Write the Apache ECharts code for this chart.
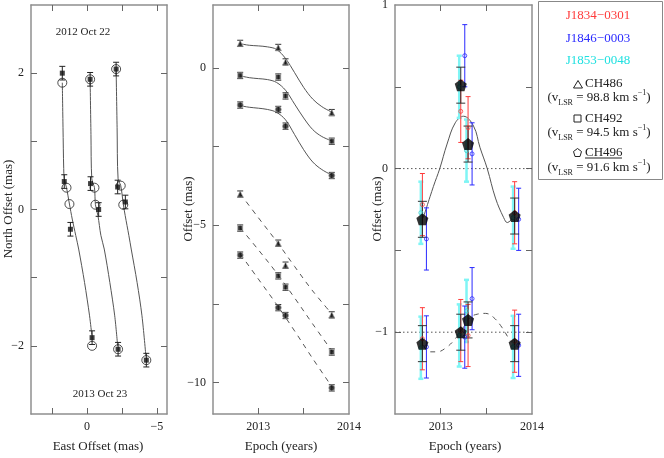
<!DOCTYPE html>
<html><head><meta charset="utf-8">
<script src="https://cdn.jsdelivr.net/npm/echarts@6/dist/echarts.min.js"></script>
<style>html,body{margin:0;padding:0;background:#fff}#c{width:664px;height:458px}</style>
</head><body><div id="c"></div><script>
// ---------- Panel 1: sky positions (East offset, North offset) ----------
const track1Curve = [[1.76,1.86],[1.71,1.2],[1.66,0.6],[1.62,0.45],[1.46,0.32],[1.25,0.08],[1.05,-0.14],[0.80,-0.38],[0.59,-0.58],[0.17,-1.07],[-0.19,-1.56],[-0.35,-1.84]];
const track2Curve = [[-0.23,1.91],[-0.29,1.1],[-0.35,0.45],[-0.54,0.32],[-0.61,0.07],[-0.79,-0.09],[-1.0,-0.38],[-1.24,-0.58],[-1.64,-1.07],[-1.99,-1.56],[-2.20,-2.0]];
const track3Curve = [[-2.09,2.06],[-2.16,1.2],[-2.23,0.45],[-2.42,0.35],[-2.61,0.07],[-2.74,-0.09],[-3.0,-0.38],[-3.17,-0.58],[-3.59,-1.07],[-3.94,-1.56],[-4.22,-2.15]];
const track1Model = [[1.76,1.86],[1.46,0.32],[1.25,0.08],[-0.37,-2.00]];
const track2Model = [[-0.23,1.91],[-0.54,0.32],[-0.61,0.07],[-2.23,-2.05]];
const track3Model = [[-2.09,2.06],[-2.42,0.35],[-2.60,0.07],[-4.25,-2.21]];
const track1Data = [[1.76,2.00],[1.62,0.41],[1.18,-0.29],[-0.37,-1.88]];
const track2Data = [[-0.23,1.91],[-0.26,0.38],[-0.84,0.00],[-2.23,-2.05]];
const track3Data = [[-2.09,2.06],[-2.20,0.33],[-2.75,0.11],[-4.25,-2.21]];
const trackErr = [0.1,0.1,0.1,0.1];

// ---------- Panel 2: offsets vs epoch ----------
const epochs = [2012.80, 2013.22, 2013.30, 2013.81];
const raTri  = [0.78, 0.65, 0.19, -1.42];
const raSq   = [-0.24, -0.29, -0.89, -2.33];
const raCirc = [-1.18, -1.32, -1.85, -3.42];
const decTri  = [-4.01, -5.57, -6.27, -7.85];
const decSq   = [-5.09, -6.61, -6.97, -9.03];
const decCirc = [-5.95, -7.62, -7.87, -10.17];
const offErr = [0.1, 0.1, 0.1, 0.1];
const fitEpochs = [2012.80,2012.90,2013.00,2013.10,2013.20,2013.30,2013.40,2013.50,2013.60,2013.70,2013.82];
const fitTri  = [0.77,0.72,0.70,0.67,0.59,0.30,-0.15,-0.62,-0.99,-1.23,-1.42];
const fitSq   = [-0.25,-0.31,-0.34,-0.37,-0.46,-0.71,-1.15,-1.59,-1.96,-2.18,-2.33];
const fitCirc = [-1.20,-1.25,-1.28,-1.32,-1.41,-1.65,-2.12,-2.60,-2.99,-3.23,-3.42];
const dfitEpochs = [2012.80,2013.00,2013.20,2013.40,2013.60,2013.82];
const dfitTri  = [-4.00,-4.76,-5.51,-6.31,-7.09,-7.85];
const dfitSq   = [-5.08,-5.78,-6.51,-7.31,-8.14,-9.03];
const dfitCirc = [-5.91,-6.71,-7.51,-8.36,-9.24,-10.17];

// ---------- Panel 3: residual offsets ----------
const blackUp  = [-0.31, 0.51, 0.15, -0.29];
const blackLow = [-1.07, -1.00, -0.925, -1.07];
const blackErr = [0.11, 0.11, 0.11, 0.11];
const redUp  = [-0.22, 0.35, 0.25, -0.27];
const redLow = [-1.04, -0.99, -1.02, -1.055];
const blueUp  = [-0.43, 0.69, 0.09, -0.31];
const blueLow = [-1.09, -1.03, -0.795, -1.08];
const cyanUp  = [-0.27, 0.50, 0.11, -0.30];
const cyanLow = [-1.095, -1.02, -0.87, -1.09];
const colErr = [0.19, 0.19, 0.19, 0.19];
const upFitEpochs = [2012.81,2012.92,2012.99,2013.07,2013.16,2013.25,2013.36,2013.43,2013.51,2013.60,2013.69,2013.73,2013.79];
const upFit = [-0.30,-0.11,0.00,0.15,0.28,0.32,0.26,0.13,0.00,-0.18,-0.30,-0.33,-0.30];
const lowFitEpochs = [2012.81,2012.88,2012.96,2013.07,2013.16,2013.25,2013.32,2013.40,2013.49,2013.58,2013.67,2013.76,2013.80];
const lowFit = [-1.08,-1.12,-1.12,-1.09,-1.04,-0.97,-0.91,-0.89,-0.885,-0.91,-0.97,-1.05,-1.07];
const refLevels = [0, -1];

// tick / label values
const p1xTicks = [-5,-2.5,0,2.5], p1xLabels = [-5,0];
const p1yTicks = [-2,-1,0,1,2], p1yLabels = [-2,0,2];
const epTicks = [2013,2013.5], epLabels = [2013,2014];
const p2yTicks = [-10,-7.5,-5,-2.5,0], p2yLabels = [-10,-5,0];
const p3yTicks = [-1,-0.5,0,0.5], p3yLabels = [-1,0,1];

const FONT = 'Liberation Serif';
const TXT = '#222';
const FRAME = '#8f8f8f';
const RED = '#ff3b3b', BLUE = '#2a2aff', CYAN = '#7ff5f5', CYANTXT = '#1fe0e0';
const cyanShift = -0.017, blueShift = 0.044;
const fmt = v => String(v).replace('-', '\u2212');
const zip = (xs, ys, es) => xs.map((x, i) => es ? [x, ys[i], es[i]] : [x, ys[i]]);
const shift = (xs, d) => xs.map(x => +(x + d).toFixed(3));

function mkAxis(gridIndex, position, min, max, ticks, labels, extra) {
  return Object.assign({
    type: 'value', gridIndex, position, min, max,
    axisLine: {show: true, onZero: false, lineStyle: {color: FRAME, width: 1.5}},
    axisTick: {show: true, inside: true, length: 6, customValues: ticks, lineStyle: {color: '#666', width: 1}},
    axisLabel: labels ? {show: true, customValues: labels, formatter: fmt, color: TXT, fontFamily: FONT, fontSize: 12, margin: 7} : {show: false},
    splitLine: {show: false}
  }, extra || {});
}

function errSeries(xi, yi, data, color, capHalf, width, z) {
  return {type: 'custom', xAxisIndex: xi, yAxisIndex: yi, data, z: z || 3, silent: true,
    encode: {x: 0, y: 1},
    renderItem(params, api) {
      const x = api.value(0), y = api.value(1), e = api.value(2);
      const p1 = api.coord([x, y + e]), p2 = api.coord([x, y - e]);
      const st = {stroke: color, lineWidth: width};
      return {type: 'group', children: [
        {type: 'line', shape: {x1: p1[0], y1: p1[1], x2: p2[0], y2: p2[1]}, style: st},
        {type: 'line', shape: {x1: p1[0] - capHalf, y1: p1[1], x2: p1[0] + capHalf, y2: p1[1]}, style: st},
        {type: 'line', shape: {x1: p2[0] - capHalf, y1: p2[1], x2: p2[0] + capHalf, y2: p2[1]}, style: st}
      ]};
    }};
}
function lineSeries(xi, yi, data, dashed, smooth) {
  return {type: 'line', xAxisIndex: xi, yAxisIndex: yi, data, showSymbol: false, symbol: 'none',
    smooth: smooth === undefined ? 0.35 : smooth, silent: true, z: 2,
    lineStyle: {color: '#555', width: 1, type: dashed ? [5, 5] : 'solid'}};
}
function scat(xi, yi, data, symbol, size, style, z) {
  return {type: 'scatter', xAxisIndex: xi, yAxisIndex: yi, data, symbol, symbolSize: size,
    itemStyle: style, z: z || 4, silent: true};
}

const black = {color: '#111', borderColor: '#aaa', borderWidth: 0.8};
const openC = c => ({color: 'rgba(0,0,0,0)', borderColor: c, borderWidth: 1});
const PENT = 'path://M0,-10L9.51,-3.09L5.88,8.09L-5.88,8.09L-9.51,-3.09Z';
const withErr = (pts, errs) => pts.map((p, i) => [p[0], p[1], errs[i]]);

const series = [];
// Panel 1
[track1Curve, track2Curve, track3Curve].forEach(c => series.push(lineSeries(0, 0, c, false, 0.3)));
[[track1Data], [track2Data], [track3Data]].forEach(([d]) => {
  series.push(errSeries(0, 0, withErr(d, trackErr), '#222', 3, 1));
  series.push(scat(0, 0, d, 'rect', 5, {color: '#111'}, 5));
});
[track1Model, track2Model, track3Model].forEach(m => series.push(scat(0, 0, m, 'circle', 9, openC('#222'), 6)));

// Panel 2
series.push(lineSeries(2, 2, zip(fitEpochs, fitTri), false));
series.push(lineSeries(2, 2, zip(fitEpochs, fitSq), false));
series.push(lineSeries(2, 2, zip(fitEpochs, fitCirc), false));
series.push(lineSeries(2, 2, zip(dfitEpochs, dfitTri), true));
series.push(lineSeries(2, 2, zip(dfitEpochs, dfitSq), true));
series.push(lineSeries(2, 2, zip(dfitEpochs, dfitCirc), true));
[[raTri, 'triangle', 6], [raSq, 'rect', 5], [raCirc, 'circle', 6],
 [decTri, 'triangle', 6], [decSq, 'rect', 5], [decCirc, 'circle', 6]].forEach(([v, sym, sz]) => {
  series.push(errSeries(2, 2, zip(epochs, v, offErr), '#333', 3, 1));
  series.push(scat(2, 2, zip(epochs, v), sym, sz, black, 5));
});

// Panel 3
refLevels.forEach(l => series.push({type: 'line', xAxisIndex: 4, yAxisIndex: 4, data: [[2012.5, l], [2014, l]],
  showSymbol: false, symbol: 'none', silent: true, z: 1, lineStyle: {color: '#555', width: 1, type: [1.5, 2.5]}}));
series.push(lineSeries(4, 4, zip(upFitEpochs, upFit), false, 0.4));
series.push(lineSeries(4, 4, zip(lowFitEpochs, lowFit), true, 0.4));
const cyanEp = shift(epochs, cyanShift), blueEp = shift(epochs, blueShift);
[cyanUp, cyanLow].forEach(v => series.push(errSeries(4, 4, zip(cyanEp, v, colErr), CYAN, 2.5, 2.5, 3)));
[redUp, redLow].forEach(v => series.push(errSeries(4, 4, zip(epochs, v, colErr), RED, 2.5, 1, 3)));
[blueUp, blueLow].forEach(v => series.push(errSeries(4, 4, zip(blueEp, v, colErr), BLUE, 2.5, 1, 3)));
[blackUp, blackLow].forEach(v => series.push(errSeries(4, 4, zip(epochs, v, blackErr), '#333', 4.5, 1, 4)));
[cyanUp, cyanLow].forEach(v => series.push(scat(4, 4, zip(cyanEp, v), 'circle', 4, openC('#3cc'), 5)));
[redUp, redLow].forEach(v => series.push(scat(4, 4, zip(epochs, v), 'circle', 4, openC(RED), 5)));
[blueUp, blueLow].forEach(v => series.push(scat(4, 4, zip(blueEp, v), 'circle', 4, openC(BLUE), 5)));
[blackUp, blackLow].forEach(v => series.push(scat(4, 4, zip(epochs, v), PENT, 12, {color: '#000'}, 7)));

const lsr = (val) => '(v{sub|LSR} = ' + val + ' km s{sup|\u22121})';
const rich = {sub: {fontSize: 8, lineHeight: 8, verticalAlign: 'bottom', fontFamily: FONT, fill: TXT},
              sup: {fontSize: 8, lineHeight: 8, verticalAlign: 'top', fontFamily: FONT, fill: TXT}};
const T = (x, y, text, fill, size, align, extra, rot) => ({type: 'text', x, y, rotation: rot || 0, silent: true, z: 10,
  style: Object.assign({text, fill: fill || TXT, fontFamily: FONT, fontSize: size || 13, align: align || 'center', verticalAlign: 'middle'}, extra || {})});

const graphic = [
  {type: 'rect', shape: {x: 538.5, y: 1.5, width: 124, height: 178}, style: {fill: '#fff', stroke: '#888', lineWidth: 1}, silent: true, z: 9},
  T(598, 16, 'J1834\u22120301', RED),
  T(598, 39, 'J1846\u22120003', BLUE),
  T(598, 61, 'J1853\u22120048', CYANTXT),
  {type: 'polygon', shape: {points: [[578, 80.5], [573.5, 88], [582.5, 88]]}, style: {fill: 'none', stroke: '#222', lineWidth: 1}, z: 10, silent: true},
  T(585, 84, 'CH486', TXT, 13, 'left'),
  T(599, 98, lsr('98.8'), TXT, 13, 'center', {rich, lineHeight: 18}),
  {type: 'rect', shape: {x: 574, y: 115, width: 7, height: 7}, style: {fill: 'none', stroke: '#222', lineWidth: 1}, z: 10, silent: true},
  T(585, 119, 'CH492', TXT, 13, 'left'),
  T(599, 133, lsr('94.5'), TXT, 13, 'center', {rich, lineHeight: 18}),
  {type: 'polygon', shape: {points: [[577.5, 148.5], [581.5, 151.5], [580, 156.5], [575, 156.5], [573.5, 151.5]]}, style: {fill: 'none', stroke: '#222', lineWidth: 1}, z: 10, silent: true},
  T(585, 153, 'CH496', TXT, 13, 'left'),
  {type: 'line', shape: {x1: 585, y1: 158, x2: 622, y2: 158}, style: {stroke: '#222', lineWidth: 1}, z: 10, silent: true},
  T(599, 168, lsr('91.6'), TXT, 13, 'center', {rich, lineHeight: 18}),
  T(83, 32, '2012 Oct 22', TXT, 11),
  T(100, 394, '2013 Oct 23', TXT, 11),
  // axis titles
  T(98, 447, 'East Offset (mas)', TXT, 13),
  T(281, 447, 'Epoch (years)', TXT, 13),
  T(465, 447, 'Epoch (years)', TXT, 13),
  T(9, 209, 'North Offset (mas)', TXT, 13, 'center', null, Math.PI / 2),
  T(189, 209, 'Offset (mas)', TXT, 13, 'center', null, Math.PI / 2),
  T(378, 209, 'Offset (mas)', TXT, 13, 'center', null, Math.PI / 2)
];

const gridBase = {top: 5, height: 409, containLabel: false, outerBoundsMode: 'none'};
const opt = {
  animation: false,
  backgroundColor: '#fff',
  textStyle: {fontFamily: FONT},
  grid: [
    Object.assign({left: 31, width: 136}, gridBase),
    Object.assign({left: 213, width: 136}, gridBase),
    Object.assign({left: 395, width: 137}, gridBase)
  ],
  xAxis: [
    mkAxis(0, 'bottom', -5.73, 4, p1xTicks, p1xLabels, {inverse: true}),
    mkAxis(0, 'top', -5.73, 4, p1xTicks, null, {inverse: true}),
    mkAxis(1, 'bottom', 2012.5, 2014, epTicks, epLabels),
    mkAxis(1, 'top', 2012.5, 2014, epTicks, null),
    mkAxis(2, 'bottom', 2012.5, 2014, epTicks, epLabels),
    mkAxis(2, 'top', 2012.5, 2014, epTicks, null)
  ],
  yAxis: [
    mkAxis(0, 'left', -3, 3, p1yTicks, p1yLabels),
    mkAxis(0, 'right', -3, 3, p1yTicks, null),
    mkAxis(1, 'left', -11, 2, p2yTicks, p2yLabels),
    mkAxis(1, 'right', -11, 2, p2yTicks, null),
    mkAxis(2, 'left', -1.5, 1, p3yTicks, p3yLabels),
    mkAxis(2, 'right', -1.5, 1, p3yTicks, null)
  ],
  series,
  graphic
};
const chart = echarts.init(document.getElementById('c'), null, {renderer: 'canvas'});
chart.setOption(opt);
</script></body></html>
